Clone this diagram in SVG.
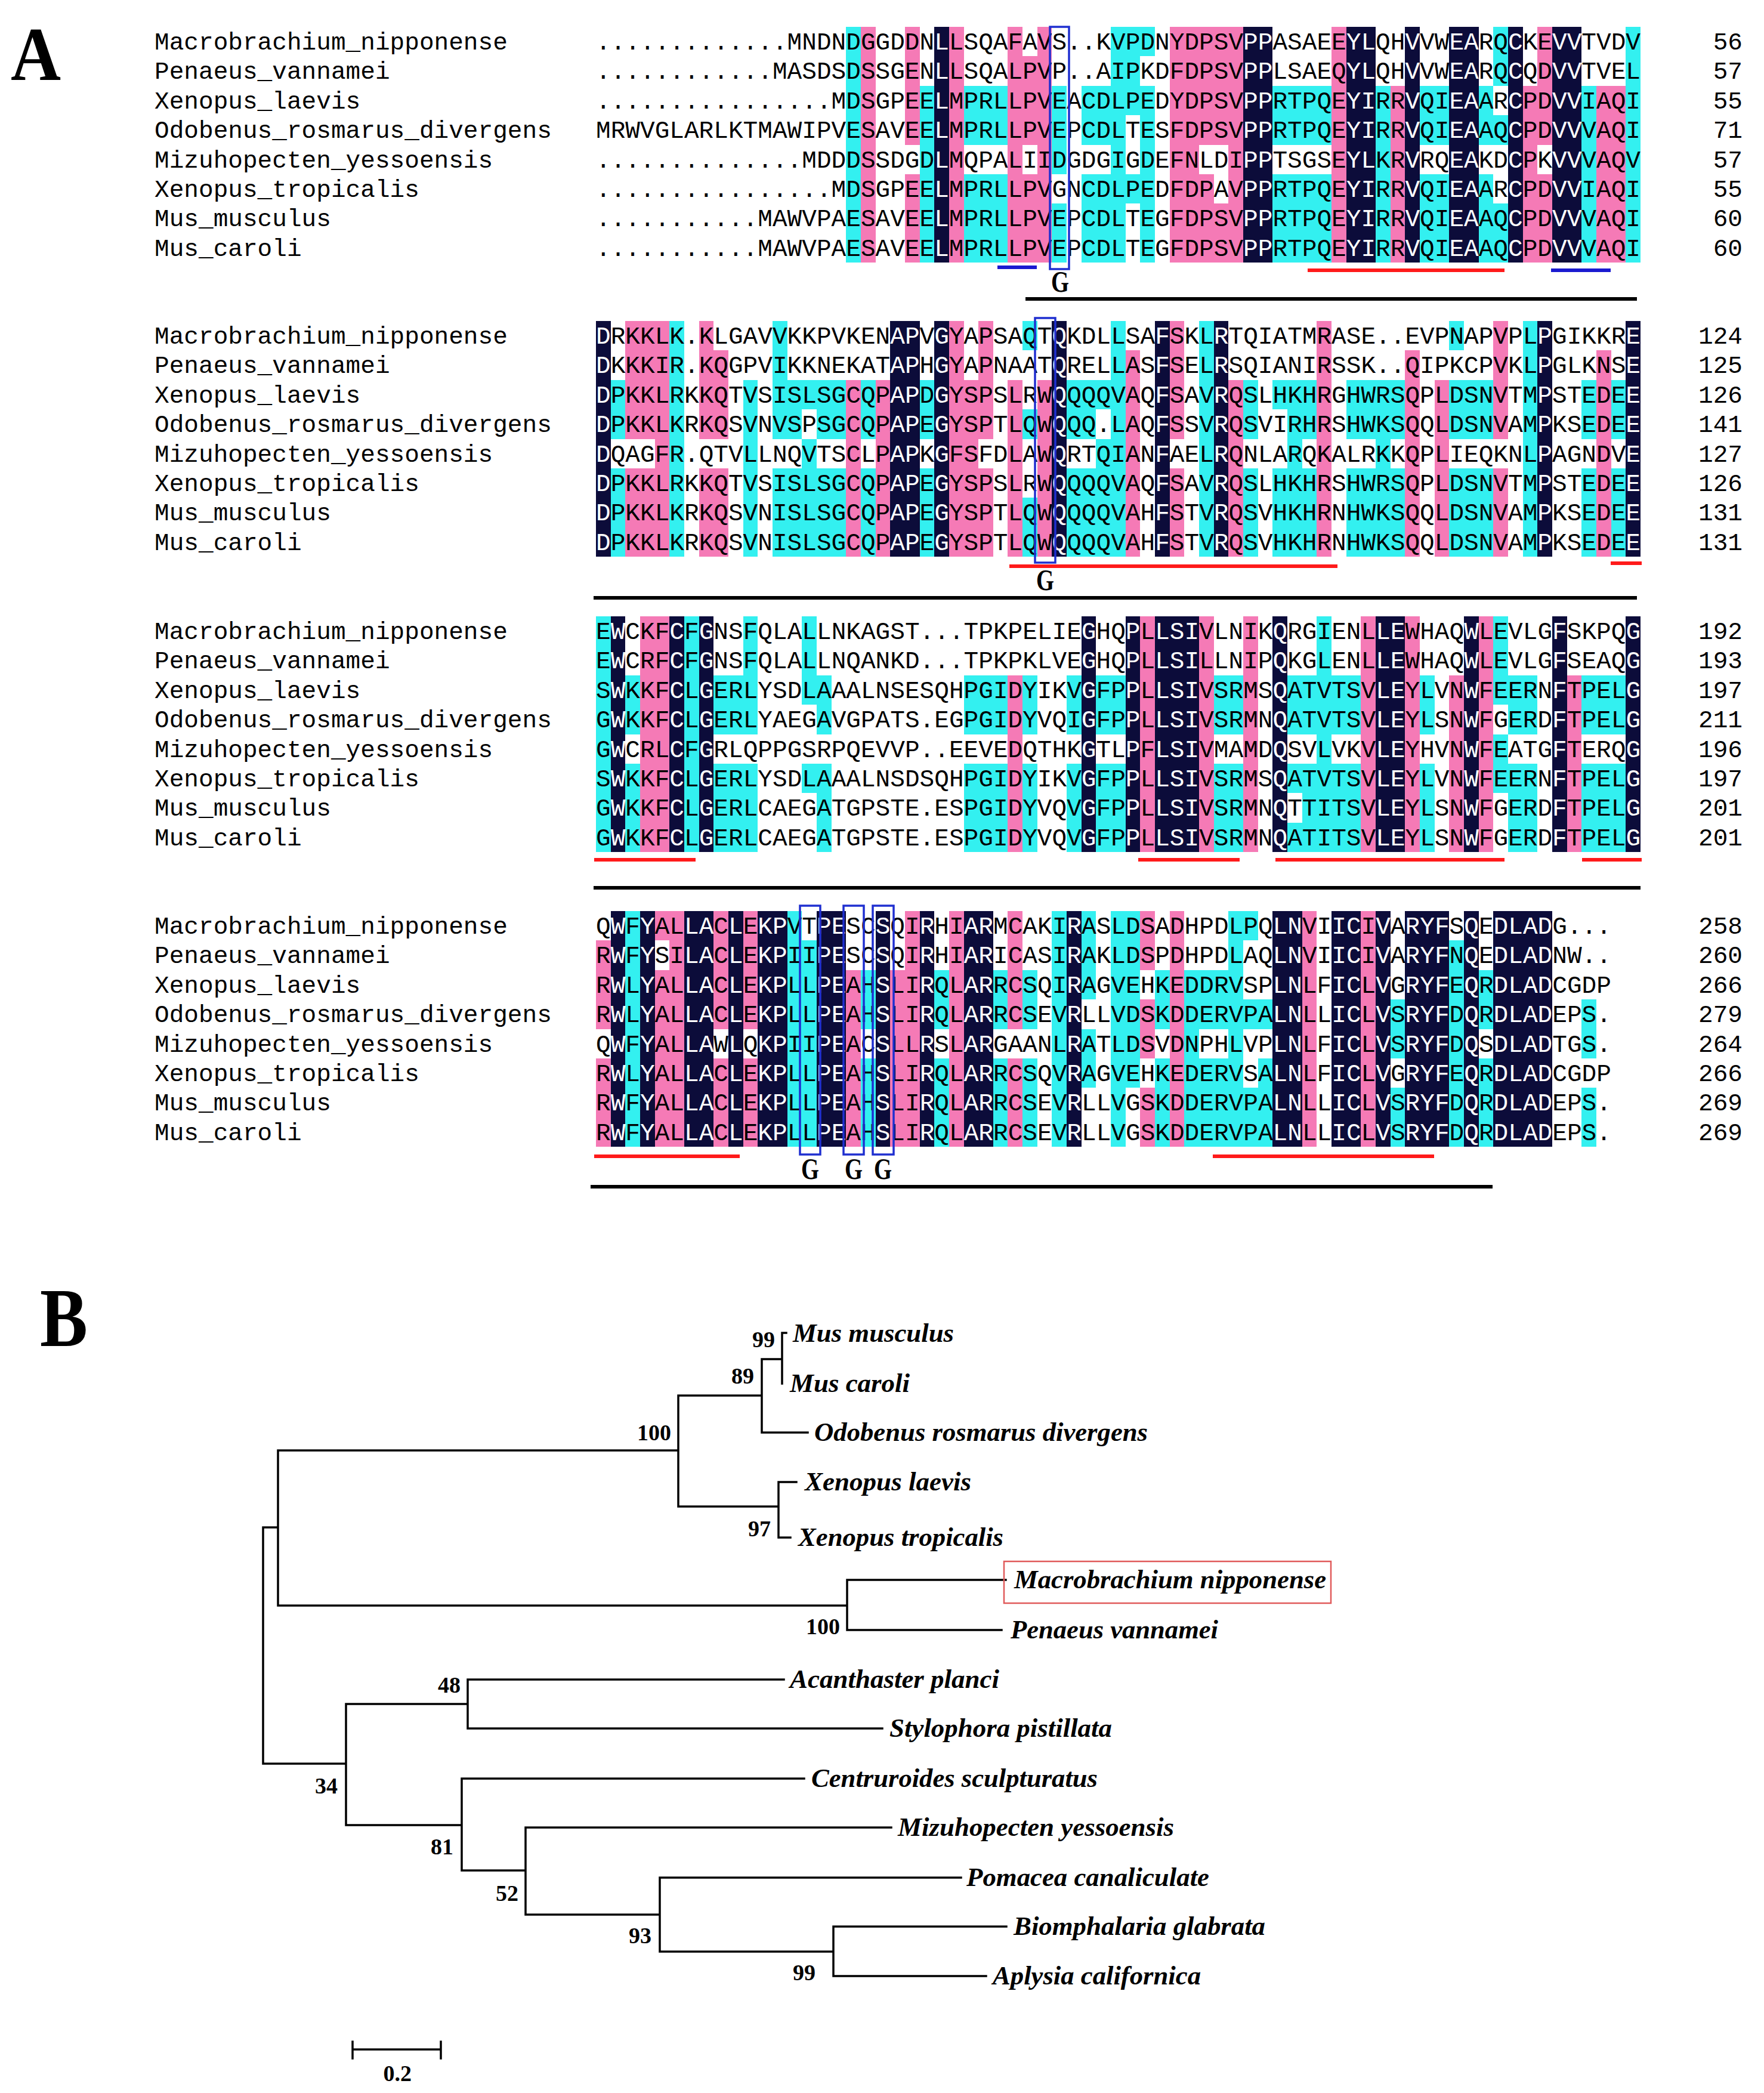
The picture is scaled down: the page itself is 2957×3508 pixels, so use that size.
<svg xmlns="http://www.w3.org/2000/svg" width="2957" height="3508" viewBox="0 0 2957 3508">
<style>
.seq{font-family:"Liberation Mono","Courier New",monospace;font-size:41.1px;fill:#000}
.w{fill:#fff}
.nm{font-family:"Liberation Mono","Courier New",monospace;font-size:41.1px;fill:#000}
.num{font-family:"Liberation Mono","Courier New",monospace;font-size:41.1px;fill:#000;text-anchor:end}
.k{fill:#0c0c3a}.p{fill:#f57ab6}.c{fill:#33f0f0}
.bx{fill:none;stroke:#1f2fd0;stroke-width:3.5}
.red{stroke:#ff1a1a;stroke-width:6}
.blu{stroke:#1a1ad0;stroke-width:6}
.blk{stroke:#000;stroke-width:6}
.g{font-family:"Liberation Serif","Times New Roman",serif;font-weight:bold;font-size:50px;text-anchor:middle}
.tree{stroke:#000;stroke-width:3.5;fill:none;stroke-linecap:square}
.sp{font-family:"Liberation Serif","Times New Roman",serif;font-style:italic;font-weight:bold;font-size:44px}
.bs{font-family:"Liberation Serif","Times New Roman",serif;font-weight:bold;font-size:38px;text-anchor:end}
.pl{font-family:"Liberation Serif","Times New Roman",serif;font-weight:bold}
</style>
<rect width="2957" height="3508" fill="#fff"/>
<text class="pl" x="18" y="134" font-size="128" textLength="84" lengthAdjust="spacingAndGlyphs">A</text>
<text class="pl" x="67" y="2256" font-size="140" textLength="80" lengthAdjust="spacingAndGlyphs">B</text>

<g id="shading" shape-rendering="crispEdges">
<g transform="translate(999,45) scale(24.66,49.4)">
<path class="k" d="M23 0h1v8h-1z M44 0h2v8h-2z M51 0h2v8h-2z M55 0h1v8h-1z M58 0h2v8h-2z M62 0h1v8h-1z M65 0h2v8h-2z"/>
<path class="p" d="M18 0h1v8h-1z M21 0h1v4h-1z M21 5h1v3h-1z M24 0h1v8h-1z M28 0h1v8h-1z M29 1h1v3h-1z M29 5h1v3h-1z M30 0h1v8h-1z M39 0h2v8h-2z M41 0h1v4h-1z M41 5h1v3h-1z M42 0h1v4h-1z M42 6h1v2h-1z M43 0h1v8h-1z M50 0h1v8h-1z M54 2h1v6h-1z M63 2h1v6h-1z M64 0h1v4h-1z M64 5h1v3h-1z M68 2h2v6h-2z"/>
<path class="c" d="M17 0h1v8h-1z M22 2h1v6h-1z M25 2h3v2h-3z M25 5h3v3h-3z M31 2h1v3h-1z M31 6h1v2h-1z M33 2h2v2h-2z M33 5h2v3h-2z M35 0h1v8h-1z M36 0h1v3h-1z M36 5h1v1h-1z M37 0h1v1h-1z M37 2h1v6h-1z M46 2h4v2h-4z M46 5h4v3h-4z M53 2h1v6h-1z M56 2h2v2h-2z M56 5h2v3h-2z M60 2h1v2h-1z M60 5h1v3h-1z M61 0h1v2h-1z M61 3h1v1h-1z M61 6h1v2h-1z M67 2h1v6h-1z M70 0h1v8h-1z"/>
</g>
<g transform="translate(999,538) scale(24.66,49.4)">
<path class="k" d="M0 0h1v8h-1z M20 0h2v8h-2z M23 0h1v8h-1z M31 0h1v8h-1z M38 0h1v8h-1z M42 0h1v8h-1z M64 0h1v8h-1z M70 0h1v8h-1z"/>
<path class="p" d="M2 0h2v4h-2z M2 5h2v3h-2z M4 0h1v8h-1z M7 0h1v4h-1z M7 5h1v3h-1z M8 1h1v3h-1z M8 5h1v3h-1z M17 2h1v6h-1z M19 2h1v6h-1z M24 0h1v8h-1z M25 2h1v6h-1z M26 0h1v4h-1z M26 5h1v3h-1z M28 2h1v6h-1z M30 2h1v6h-1z M36 1h1v7h-1z M39 0h1v4h-1z M39 5h1v3h-1z M43 2h1v6h-1z M49 0h1v8h-1z M55 1h1v7h-1z M57 2h1v6h-1z M61 0h1v4h-1z M61 5h1v3h-1z M68 1h1v7h-1z"/>
<path class="c" d="M1 2h1v2h-1z M1 5h1v3h-1z M5 0h1v8h-1z M10 2h1v6h-1z M12 0h1v4h-1z M12 5h1v3h-1z M13 2h1v2h-1z M13 5h1v3h-1z M14 2h1v1h-1z M14 4h1v4h-1z M15 2h2v2h-2z M15 5h2v3h-2z M18 2h1v2h-1z M18 5h1v3h-1z M22 2h1v2h-1z M22 5h1v3h-1z M29 0h1v1h-1z M29 3h1v1h-1z M29 6h1v2h-1z M32 2h2v2h-2z M32 5h2v3h-2z M34 2h1v1h-1z M34 4h1v4h-1z M35 0h1v8h-1z M41 0h1v8h-1z M44 2h1v2h-1z M44 5h1v3h-1z M46 2h1v1h-1z M46 5h1v3h-1z M47 2h1v6h-1z M48 2h1v2h-1z M48 5h1v3h-1z M51 2h2v2h-2z M51 5h2v3h-2z M53 2h1v6h-1z M54 2h1v2h-1z M54 5h1v3h-1z M58 0h1v1h-1z M58 2h1v2h-1z M58 5h1v3h-1z M59 2h2v2h-2z M59 5h2v3h-2z M63 0h1v8h-1z M67 2h1v2h-1z M67 5h1v3h-1z M69 2h1v2h-1z M69 5h1v3h-1z"/>
</g>
<g transform="translate(999,1033) scale(24.66,49.4)">
<path class="k" d="M1 0h1v8h-1z M5 0h1v8h-1z M7 0h1v8h-1z M33 0h1v8h-1z M36 0h1v8h-1z M38 0h3v8h-3z M46 0h1v8h-1z M53 0h2v8h-2z M59 0h1v8h-1z M65 0h1v8h-1z M70 0h1v8h-1z"/>
<path class="p" d="M3 0h2v8h-2z M28 2h1v6h-1z M37 0h1v8h-1z M41 0h1v8h-1z M44 0h1v8h-1z M52 0h1v8h-1z M55 0h1v8h-1z M58 2h1v6h-1z M60 0h1v8h-1z M66 2h1v6h-1z"/>
<path class="c" d="M0 0h1v8h-1z M2 2h1v2h-1z M2 5h1v3h-1z M6 0h1v8h-1z M8 2h2v2h-2z M8 5h2v3h-2z M10 0h1v4h-1z M10 5h1v3h-1z M14 0h1v3h-1z M14 5h1v1h-1z M15 2h1v2h-1z M15 5h1v3h-1z M25 2h3v2h-3z M25 5h3v3h-3z M29 2h1v2h-1z M29 5h1v3h-1z M32 2h1v2h-1z M32 5h1v3h-1z M34 2h2v2h-2z M34 5h2v3h-2z M42 2h2v2h-2z M42 5h2v3h-2z M47 2h1v2h-1z M47 5h1v1h-1z M47 7h1v1h-1z M48 2h1v2h-1z M48 5h1v3h-1z M49 0h1v8h-1z M50 2h2v2h-2z M50 5h2v3h-2z M56 2h1v2h-1z M56 5h1v3h-1z M61 0h1v3h-1z M61 4h1v2h-1z M62 2h2v2h-2z M62 5h2v3h-2z M67 2h3v2h-3z M67 5h3v3h-3z"/>
</g>
<g transform="translate(999,1527) scale(24.66,49.4)">
<path class="k" d="M1 0h1v8h-1z M3 0h1v8h-1z M6 0h2v8h-2z M9 0h1v8h-1z M11 0h2v8h-2z M15 0h2v8h-2z M19 0h1v8h-1z M22 0h1v8h-1z M25 0h2v8h-2z M32 0h1v8h-1z M46 0h2v8h-2z M50 0h2v8h-2z M53 0h1v8h-1z M55 0h3v8h-3z M59 0h1v8h-1z M61 0h4v8h-4z"/>
<path class="p" d="M0 1h1v3h-1z M0 5h1v3h-1z M4 0h1v1h-1z M4 2h1v6h-1z M5 0h1v8h-1z M8 0h1v4h-1z M8 5h1v3h-1z M10 0h1v4h-1z M10 5h1v3h-1z M17 2h1v6h-1z M20 2h1v6h-1z M21 0h1v8h-1z M24 0h1v8h-1z M28 0h1v4h-1z M28 5h1v3h-1z M37 0h1v2h-1z M37 3h1v2h-1z M37 6h1v2h-1z M39 0h1v8h-1z M48 0h1v8h-1z M52 0h1v8h-1z"/>
<path class="c" d="M2 0h1v8h-1z M13 0h1v8h-1z M14 1h1v7h-1z M18 2h1v2h-1z M18 5h1v3h-1z M23 2h1v2h-1z M23 5h1v3h-1z M27 2h1v2h-1z M27 5h1v3h-1z M29 2h1v2h-1z M29 5h1v3h-1z M31 0h1v8h-1z M33 0h1v3h-1z M33 4h1v2h-1z M35 0h1v8h-1z M36 0h1v6h-1z M38 2h1v2h-1z M38 5h1v3h-1z M40 2h1v6h-1z M41 2h2v2h-2z M41 5h2v3h-2z M43 0h1v8h-1z M44 0h1v1h-1z M44 3h1v1h-1z M44 6h1v2h-1z M45 3h1v1h-1z M45 5h1v3h-1z M54 3h1v2h-1z M54 6h1v2h-1z M58 1h1v7h-1z M60 2h1v2h-1z M60 5h1v3h-1z M67 3h1v2h-1z M67 6h1v2h-1z"/>
</g>
</g>

<g id="names">
<g class="nm">
<text x="259" y="83">Macrobrachium_nipponense</text>
<text x="259" y="132.4">Penaeus_vannamei</text>
<text x="259" y="181.8">Xenopus_laevis</text>
<text x="259" y="231.2">Odobenus_rosmarus_divergens</text>
<text x="259" y="280.6">Mizuhopecten_yessoensis</text>
<text x="259" y="330">Xenopus_tropicalis</text>
<text x="259" y="379.4">Mus_musculus</text>
<text x="259" y="428.8">Mus_caroli</text>
<text x="259" y="576">Macrobrachium_nipponense</text>
<text x="259" y="625.4">Penaeus_vannamei</text>
<text x="259" y="674.8">Xenopus_laevis</text>
<text x="259" y="724.2">Odobenus_rosmarus_divergens</text>
<text x="259" y="773.6">Mizuhopecten_yessoensis</text>
<text x="259" y="823">Xenopus_tropicalis</text>
<text x="259" y="872.4">Mus_musculus</text>
<text x="259" y="921.8">Mus_caroli</text>
<text x="259" y="1071">Macrobrachium_nipponense</text>
<text x="259" y="1120.4">Penaeus_vannamei</text>
<text x="259" y="1169.8">Xenopus_laevis</text>
<text x="259" y="1219.2">Odobenus_rosmarus_divergens</text>
<text x="259" y="1268.6">Mizuhopecten_yessoensis</text>
<text x="259" y="1318">Xenopus_tropicalis</text>
<text x="259" y="1367.4">Mus_musculus</text>
<text x="259" y="1416.8">Mus_caroli</text>
<text x="259" y="1565">Macrobrachium_nipponense</text>
<text x="259" y="1614.4">Penaeus_vannamei</text>
<text x="259" y="1663.8">Xenopus_laevis</text>
<text x="259" y="1713.2">Odobenus_rosmarus_divergens</text>
<text x="259" y="1762.6">Mizuhopecten_yessoensis</text>
<text x="259" y="1812">Xenopus_tropicalis</text>
<text x="259" y="1861.4">Mus_musculus</text>
<text x="259" y="1910.8">Mus_caroli</text>
</g>
</g>

<g id="numbers" class="num">
<text x="2921" y="83">56</text><text x="2921" y="132.4">57</text><text x="2921" y="181.8">55</text><text x="2921" y="231.2">71</text><text x="2921" y="280.6">57</text><text x="2921" y="330">55</text><text x="2921" y="379.4">60</text><text x="2921" y="428.8">60</text>
<text x="2921" y="576">124</text><text x="2921" y="625.4">125</text><text x="2921" y="674.8">126</text><text x="2921" y="724.2">141</text><text x="2921" y="773.6">127</text><text x="2921" y="823">126</text><text x="2921" y="872.4">131</text><text x="2921" y="921.8">131</text>
<text x="2921" y="1071">192</text><text x="2921" y="1120.4">193</text><text x="2921" y="1169.8">197</text><text x="2921" y="1219.2">211</text><text x="2921" y="1268.6">196</text><text x="2921" y="1318">197</text><text x="2921" y="1367.4">201</text><text x="2921" y="1416.8">201</text>
<text x="2921" y="1565">258</text><text x="2921" y="1614.4">260</text><text x="2921" y="1663.8">266</text><text x="2921" y="1713.2">279</text><text x="2921" y="1762.6">264</text><text x="2921" y="1812">266</text><text x="2921" y="1861.4">269</text><text x="2921" y="1910.8">269</text>
</g>

<g id="block1" class="seq">
<text x="999" y="83">.............MNDNDGGDDN<tspan class="w">L</tspan>LSQAFAVS..KVPDNYDPSV<tspan class="w">PP</tspan>ASAEE<tspan class="w">YL</tspan>QH<tspan class="w">V</tspan>VW<tspan class="w">EA</tspan>RQ<tspan class="w">C</tspan>KE<tspan class="w">VV</tspan>TVDV</text>
<text x="999" y="132.4">............MASDSDSSGEN<tspan class="w">L</tspan>LSQALPVP..AIPKDFDPSV<tspan class="w">PP</tspan>LSAEQ<tspan class="w">YL</tspan>QH<tspan class="w">V</tspan>VW<tspan class="w">EA</tspan>RQ<tspan class="w">C</tspan>QD<tspan class="w">VV</tspan>TVEL</text>
<text x="999" y="181.8">................MDSGPEE<tspan class="w">L</tspan>MPRLLPVEACDLPEDYDPSV<tspan class="w">PP</tspan>RTPQE<tspan class="w">YI</tspan>RR<tspan class="w">V</tspan>QI<tspan class="w">EA</tspan>AR<tspan class="w">C</tspan>PD<tspan class="w">VV</tspan>IAQI</text>
<text x="999" y="231.2">MRWVGLARLKTMAWIPVESAVEE<tspan class="w">L</tspan>MPRLLPVEPCDLTESFDPSV<tspan class="w">PP</tspan>RTPQE<tspan class="w">YI</tspan>RR<tspan class="w">V</tspan>QI<tspan class="w">EA</tspan>AQ<tspan class="w">C</tspan>PD<tspan class="w">VV</tspan>VAQI</text>
<text x="999" y="280.6">..............MDDDSSDGD<tspan class="w">L</tspan>MQPALIIDGDGIGDEFNLDI<tspan class="w">PP</tspan>TSGSE<tspan class="w">YL</tspan>KR<tspan class="w">V</tspan>RQ<tspan class="w">EA</tspan>KD<tspan class="w">C</tspan>PK<tspan class="w">VV</tspan>VAQV</text>
<text x="999" y="330">................MDSGPEE<tspan class="w">L</tspan>MPRLLPVGNCDLPEDFDPAV<tspan class="w">PP</tspan>RTPQE<tspan class="w">YI</tspan>RR<tspan class="w">V</tspan>QI<tspan class="w">EA</tspan>AR<tspan class="w">C</tspan>PD<tspan class="w">VV</tspan>IAQI</text>
<text x="999" y="379.4">...........MAWVPAESAVEE<tspan class="w">L</tspan>MPRLLPVEPCDLTEGFDPSV<tspan class="w">PP</tspan>RTPQE<tspan class="w">YI</tspan>RR<tspan class="w">V</tspan>QI<tspan class="w">EA</tspan>AQ<tspan class="w">C</tspan>PD<tspan class="w">VV</tspan>VAQI</text>
<text x="999" y="428.8">...........MAWVPAESAVEE<tspan class="w">L</tspan>MPRLLPVEPCDLTEGFDPSV<tspan class="w">PP</tspan>RTPQE<tspan class="w">YI</tspan>RR<tspan class="w">V</tspan>QI<tspan class="w">EA</tspan>AQ<tspan class="w">C</tspan>PD<tspan class="w">VV</tspan>VAQI</text>
</g>

<g id="block2" class="seq">
<text x="999" y="576"><tspan class="w">D</tspan>RKKLK.KLGAVVKKPVKEN<tspan class="w">AP</tspan>V<tspan class="w">G</tspan>YAPSAQT<tspan class="w">Q</tspan>KDLLSA<tspan class="w">F</tspan>SKL<tspan class="w">R</tspan>TQIATMRASE..EVPNAPVPL<tspan class="w">P</tspan>GIKKR<tspan class="w">E</tspan></text>
<text x="999" y="625.4"><tspan class="w">D</tspan>KKKIR.KQGPVIKKNEKAT<tspan class="w">AP</tspan>H<tspan class="w">G</tspan>YAPNAAT<tspan class="w">Q</tspan>RELLAS<tspan class="w">F</tspan>SEL<tspan class="w">R</tspan>SQIANIRSSK..QIPKCPVKL<tspan class="w">P</tspan>GLKNS<tspan class="w">E</tspan></text>
<text x="999" y="674.8"><tspan class="w">D</tspan>PKKLRKKQTVSISLSGCQP<tspan class="w">AP</tspan>D<tspan class="w">G</tspan>YSPSLRW<tspan class="w">Q</tspan>QQQVAQ<tspan class="w">F</tspan>SAV<tspan class="w">R</tspan>QSLHKHRGHWRSQPLDSNVTM<tspan class="w">P</tspan>STEDE<tspan class="w">E</tspan></text>
<text x="999" y="724.2"><tspan class="w">D</tspan>PKKLKRKQSVNVSPSGCQP<tspan class="w">AP</tspan>E<tspan class="w">G</tspan>YSPTLQW<tspan class="w">Q</tspan>QQ.LAQ<tspan class="w">F</tspan>SSV<tspan class="w">R</tspan>QSVIRHRSHWKSQQLDSNVAM<tspan class="w">P</tspan>KSEDE<tspan class="w">E</tspan></text>
<text x="999" y="773.6"><tspan class="w">D</tspan>QAGFR.QTVLLNQVTSCLP<tspan class="w">AP</tspan>K<tspan class="w">G</tspan>FSFDLAW<tspan class="w">Q</tspan>RTQIAN<tspan class="w">F</tspan>AEL<tspan class="w">R</tspan>QNLARQKALRKKQPLIEQKNL<tspan class="w">P</tspan>AGNDV<tspan class="w">E</tspan></text>
<text x="999" y="823"><tspan class="w">D</tspan>PKKLRKKQTVSISLSGCQP<tspan class="w">AP</tspan>E<tspan class="w">G</tspan>YSPSLRW<tspan class="w">Q</tspan>QQQVAQ<tspan class="w">F</tspan>SAV<tspan class="w">R</tspan>QSLHKHRSHWRSQPLDSNVTM<tspan class="w">P</tspan>STEDE<tspan class="w">E</tspan></text>
<text x="999" y="872.4"><tspan class="w">D</tspan>PKKLKRKQSVNISLSGCQP<tspan class="w">AP</tspan>E<tspan class="w">G</tspan>YSPTLQW<tspan class="w">Q</tspan>QQQVAH<tspan class="w">F</tspan>STV<tspan class="w">R</tspan>QSVHKHRNHWKSQQLDSNVAM<tspan class="w">P</tspan>KSEDE<tspan class="w">E</tspan></text>
<text x="999" y="921.8"><tspan class="w">D</tspan>PKKLKRKQSVNISLSGCQP<tspan class="w">AP</tspan>E<tspan class="w">G</tspan>YSPTLQW<tspan class="w">Q</tspan>QQQVAH<tspan class="w">F</tspan>STV<tspan class="w">R</tspan>QSVHKHRNHWKSQQLDSNVAM<tspan class="w">P</tspan>KSEDE<tspan class="w">E</tspan></text>
</g>

<g id="block3" class="seq">
<text x="999" y="1071">E<tspan class="w">W</tspan>CKF<tspan class="w">C</tspan>F<tspan class="w">G</tspan>NSFQLALLNKAGST...TPKPELIE<tspan class="w">G</tspan>HQ<tspan class="w">P</tspan>L<tspan class="w">LSI</tspan>VLNIK<tspan class="w">Q</tspan>RGIENL<tspan class="w">LE</tspan>WHAQ<tspan class="w">W</tspan>LEVLG<tspan class="w">F</tspan>SKPQ<tspan class="w">G</tspan></text>
<text x="999" y="1120.4">E<tspan class="w">W</tspan>CRF<tspan class="w">C</tspan>F<tspan class="w">G</tspan>NSFQLALLNQANKD...TPKPKLVE<tspan class="w">G</tspan>HQ<tspan class="w">P</tspan>L<tspan class="w">LSI</tspan>LLNIP<tspan class="w">Q</tspan>KGLENL<tspan class="w">LE</tspan>WHAQ<tspan class="w">W</tspan>LEVLG<tspan class="w">F</tspan>SEAQ<tspan class="w">G</tspan></text>
<text x="999" y="1169.8">S<tspan class="w">W</tspan>KKF<tspan class="w">C</tspan>L<tspan class="w">G</tspan>ERLYSDLAAALNSESQHPGIDYIKV<tspan class="w">G</tspan>FP<tspan class="w">P</tspan>L<tspan class="w">LSI</tspan>VSRMS<tspan class="w">Q</tspan>ATVTSV<tspan class="w">LE</tspan>YLVN<tspan class="w">W</tspan>FEERN<tspan class="w">F</tspan>TPEL<tspan class="w">G</tspan></text>
<text x="999" y="1219.2">G<tspan class="w">W</tspan>KKF<tspan class="w">C</tspan>L<tspan class="w">G</tspan>ERLYAEGAVGPATS.EGPGIDYVQI<tspan class="w">G</tspan>FP<tspan class="w">P</tspan>L<tspan class="w">LSI</tspan>VSRMN<tspan class="w">Q</tspan>ATVTSV<tspan class="w">LE</tspan>YLSN<tspan class="w">W</tspan>FGERD<tspan class="w">F</tspan>TPEL<tspan class="w">G</tspan></text>
<text x="999" y="1268.6">G<tspan class="w">W</tspan>CRL<tspan class="w">C</tspan>F<tspan class="w">G</tspan>RLQPPGSRPQEVVP..EEVEDQTHK<tspan class="w">G</tspan>TL<tspan class="w">P</tspan>F<tspan class="w">LSI</tspan>VMAMD<tspan class="w">Q</tspan>SVLVKV<tspan class="w">LE</tspan>YHVN<tspan class="w">W</tspan>FEATG<tspan class="w">F</tspan>TERQ<tspan class="w">G</tspan></text>
<text x="999" y="1318">S<tspan class="w">W</tspan>KKF<tspan class="w">C</tspan>L<tspan class="w">G</tspan>ERLYSDLAAALNSDSQHPGIDYIKV<tspan class="w">G</tspan>FP<tspan class="w">P</tspan>L<tspan class="w">LSI</tspan>VSRMS<tspan class="w">Q</tspan>ATVTSV<tspan class="w">LE</tspan>YLVN<tspan class="w">W</tspan>FEERN<tspan class="w">F</tspan>TPEL<tspan class="w">G</tspan></text>
<text x="999" y="1367.4">G<tspan class="w">W</tspan>KKF<tspan class="w">C</tspan>L<tspan class="w">G</tspan>ERLCAEGATGPSTE.ESPGIDYVQV<tspan class="w">G</tspan>FP<tspan class="w">P</tspan>L<tspan class="w">LSI</tspan>VSRMN<tspan class="w">Q</tspan>TTITSV<tspan class="w">LE</tspan>YLSN<tspan class="w">W</tspan>FGERD<tspan class="w">F</tspan>TPEL<tspan class="w">G</tspan></text>
<text x="999" y="1416.8">G<tspan class="w">W</tspan>KKF<tspan class="w">C</tspan>L<tspan class="w">G</tspan>ERLCAEGATGPSTE.ESPGIDYVQV<tspan class="w">G</tspan>FP<tspan class="w">P</tspan>L<tspan class="w">LSI</tspan>VSRMN<tspan class="w">Q</tspan>ATITSV<tspan class="w">LE</tspan>YLSN<tspan class="w">W</tspan>FGERD<tspan class="w">F</tspan>TPEL<tspan class="w">G</tspan></text>
</g>

<g id="block4" class="seq">
<text x="999" y="1565">Q<tspan class="w">W</tspan>F<tspan class="w">Y</tspan>AL<tspan class="w">LA</tspan>C<tspan class="w">L</tspan>E<tspan class="w">KP</tspan>VT<tspan class="w">PE</tspan>SC<tspan class="w">S</tspan>QI<tspan class="w">R</tspan>HI<tspan class="w">AR</tspan>MCAKI<tspan class="w">R</tspan>ASLDSADHPDLPQ<tspan class="w">LN</tspan>VI<tspan class="w">IC</tspan>I<tspan class="w">V</tspan>A<tspan class="w">RYF</tspan>S<tspan class="w">Q</tspan>E<tspan class="w">DLAD</tspan>G...</text>
<text x="999" y="1614.4">R<tspan class="w">W</tspan>F<tspan class="w">Y</tspan>SI<tspan class="w">LA</tspan>C<tspan class="w">L</tspan>E<tspan class="w">KP</tspan>II<tspan class="w">PE</tspan>SC<tspan class="w">S</tspan>QI<tspan class="w">R</tspan>HI<tspan class="w">AR</tspan>ICASI<tspan class="w">R</tspan>AKLDSPDHPDLAQ<tspan class="w">LN</tspan>VI<tspan class="w">IC</tspan>I<tspan class="w">V</tspan>A<tspan class="w">RYF</tspan>N<tspan class="w">Q</tspan>E<tspan class="w">DLAD</tspan>NW..</text>
<text x="999" y="1663.8">R<tspan class="w">W</tspan>L<tspan class="w">Y</tspan>AL<tspan class="w">LA</tspan>C<tspan class="w">L</tspan>E<tspan class="w">KP</tspan>LL<tspan class="w">PE</tspan>AH<tspan class="w">S</tspan>LI<tspan class="w">R</tspan>QL<tspan class="w">AR</tspan>RCSQI<tspan class="w">R</tspan>AGVEHKEDDRVSP<tspan class="w">LN</tspan>LF<tspan class="w">IC</tspan>L<tspan class="w">V</tspan>G<tspan class="w">RYF</tspan>E<tspan class="w">Q</tspan>R<tspan class="w">DLAD</tspan>CGDP</text>
<text x="999" y="1713.2">R<tspan class="w">W</tspan>L<tspan class="w">Y</tspan>AL<tspan class="w">LA</tspan>C<tspan class="w">L</tspan>E<tspan class="w">KP</tspan>LL<tspan class="w">PE</tspan>AH<tspan class="w">S</tspan>LI<tspan class="w">R</tspan>QL<tspan class="w">AR</tspan>RCSEV<tspan class="w">R</tspan>LLVDSKDDERVPA<tspan class="w">LN</tspan>LL<tspan class="w">IC</tspan>L<tspan class="w">V</tspan>S<tspan class="w">RYF</tspan>D<tspan class="w">Q</tspan>R<tspan class="w">DLAD</tspan>EPS.</text>
<text x="999" y="1762.6">Q<tspan class="w">W</tspan>F<tspan class="w">Y</tspan>AL<tspan class="w">LA</tspan>W<tspan class="w">L</tspan>Q<tspan class="w">KP</tspan>II<tspan class="w">PE</tspan>AC<tspan class="w">S</tspan>LL<tspan class="w">R</tspan>SL<tspan class="w">AR</tspan>GAANL<tspan class="w">R</tspan>ATLDSVDNPHLVP<tspan class="w">LN</tspan>LF<tspan class="w">IC</tspan>L<tspan class="w">V</tspan>S<tspan class="w">RYF</tspan>D<tspan class="w">Q</tspan>S<tspan class="w">DLAD</tspan>TGS.</text>
<text x="999" y="1812">R<tspan class="w">W</tspan>L<tspan class="w">Y</tspan>AL<tspan class="w">LA</tspan>C<tspan class="w">L</tspan>E<tspan class="w">KP</tspan>LL<tspan class="w">PE</tspan>AH<tspan class="w">S</tspan>LI<tspan class="w">R</tspan>QL<tspan class="w">AR</tspan>RCSQV<tspan class="w">R</tspan>AGVEHKEDERVSA<tspan class="w">LN</tspan>LF<tspan class="w">IC</tspan>L<tspan class="w">V</tspan>G<tspan class="w">RYF</tspan>E<tspan class="w">Q</tspan>R<tspan class="w">DLAD</tspan>CGDP</text>
<text x="999" y="1861.4">R<tspan class="w">W</tspan>F<tspan class="w">Y</tspan>AL<tspan class="w">LA</tspan>C<tspan class="w">L</tspan>E<tspan class="w">KP</tspan>LL<tspan class="w">PE</tspan>AH<tspan class="w">S</tspan>LI<tspan class="w">R</tspan>QL<tspan class="w">AR</tspan>RCSEV<tspan class="w">R</tspan>LLVGSKDDERVPA<tspan class="w">LN</tspan>LL<tspan class="w">IC</tspan>L<tspan class="w">V</tspan>S<tspan class="w">RYF</tspan>D<tspan class="w">Q</tspan>R<tspan class="w">DLAD</tspan>EPS.</text>
<text x="999" y="1910.8">R<tspan class="w">W</tspan>F<tspan class="w">Y</tspan>AL<tspan class="w">LA</tspan>C<tspan class="w">L</tspan>E<tspan class="w">KP</tspan>LL<tspan class="w">PE</tspan>AH<tspan class="w">S</tspan>LI<tspan class="w">R</tspan>QL<tspan class="w">AR</tspan>RCSEV<tspan class="w">R</tspan>LLVGSKDDERVPA<tspan class="w">LN</tspan>LL<tspan class="w">IC</tspan>L<tspan class="w">V</tspan>S<tspan class="w">RYF</tspan>D<tspan class="w">Q</tspan>R<tspan class="w">DLAD</tspan>EPS.</text>
</g>

<g id="annotations">
<rect class="bx" x="1760" y="45" width="32" height="406"/>
<rect class="bx" x="1735" y="533" width="34" height="410"/>
<rect class="bx" x="1341" y="1518" width="34" height="417"/>
<rect class="bx" x="1414" y="1518" width="34" height="417"/>
<rect class="bx" x="1463" y="1518" width="35" height="417"/>
<line class="blu" x1="1672" y1="448" x2="1738" y2="448"/>
<line class="red" x1="2192" y1="453" x2="2522" y2="453"/>
<line class="blu" x1="2600" y1="453" x2="2700" y2="453"/>
<line class="blk" x1="1719" y1="501" x2="2744" y2="501"/>
<line class="red" x1="1692" y1="949" x2="2242" y2="949"/>
<line class="red" x1="2700" y1="944" x2="2752" y2="944"/>
<line class="blk" x1="995" y1="1002" x2="2744" y2="1002"/>
<line class="red" x1="996" y1="1441" x2="1166" y2="1441"/>
<line class="red" x1="1908" y1="1441" x2="2078" y2="1441"/>
<line class="red" x1="2138" y1="1441" x2="2522" y2="1441"/>
<line class="red" x1="2652" y1="1441" x2="2752" y2="1441"/>
<line class="blk" x1="995" y1="1488" x2="2750" y2="1488"/>
<line class="red" x1="996" y1="1938" x2="1240" y2="1938"/>
<line class="red" x1="2033" y1="1938" x2="2404" y2="1938"/>
<line class="blk" x1="990" y1="1989" x2="2502" y2="1989"/>
<text class="g" x="1777" y="489" textLength="30" lengthAdjust="spacingAndGlyphs">G</text>
<text class="g" x="1752" y="989" textLength="30" lengthAdjust="spacingAndGlyphs">G</text>
<text class="g" x="1358" y="1976" textLength="30" lengthAdjust="spacingAndGlyphs">G</text>
<text class="g" x="1431" y="1976" textLength="30" lengthAdjust="spacingAndGlyphs">G</text>
<text class="g" x="1480" y="1976" textLength="30" lengthAdjust="spacingAndGlyphs">G</text>
</g>

<g id="tree-edges">
<path class="tree" d="M441 2560V2956 M441 2560H466 M441 2956H580 M466 2431V2691 M466 2431H1137 M466 2691H1420 M1137 2339V2525 M1137 2339H1277 M1137 2525H1305 M1277 2278V2401 M1277 2278H1311 M1277 2401H1354 M1311 2234V2319 M1311 2234H1318 M1305 2484V2577 M1305 2484H1335 M1305 2577H1325 M1420 2648V2732 M1420 2648H1686 M1420 2732H1679 M580 2856V3059 M580 2856H784 M580 3059H774 M784 2815V2897 M784 2815H1314 M784 2897H1479 M774 2981V3135 M774 2981H1348 M774 3135H881 M881 3063V3209 M881 3063H1494 M881 3209H1106 M1106 3147V3271 M1106 3147H1611 M1106 3271H1397 M1397 3229V3312 M1397 3229H1687 M1397 3312H1653"/>
</g>

<g id="bootstrap" class="bs">
<text x="1299" y="2258">99</text>
<text x="1264" y="2319">89</text>
<text x="1125" y="2414">100</text>
<text x="1292" y="2575">97</text>
<text x="1408" y="2739">100</text>
<text x="772" y="2837">48</text>
<text x="566" y="3006">34</text>
<text x="760" y="3108">81</text>
<text x="869" y="3186">52</text>
<text x="1092" y="3257">93</text>
<text x="1367" y="3319">99</text>
</g>

<g id="leaves" class="sp">
<g id="leaf-mus-musculus"><text x="1329" y="2249" textLength="270" lengthAdjust="spacingAndGlyphs">Mus musculus</text></g>
<g id="leaf-mus-caroli"><text x="1324" y="2333" textLength="201" lengthAdjust="spacingAndGlyphs">Mus caroli</text></g>
<g id="leaf-odobenus"><text x="1365" y="2415" textLength="559" lengthAdjust="spacingAndGlyphs">Odobenus rosmarus divergens</text></g>
<g id="leaf-xenopus-laevis"><text x="1349" y="2498" textLength="279" lengthAdjust="spacingAndGlyphs">Xenopus laevis</text></g>
<g id="leaf-xenopus-tropicalis"><text x="1338" y="2591" textLength="344" lengthAdjust="spacingAndGlyphs">Xenopus tropicalis</text></g>
<g id="leaf-macrobrachium"><rect x="1683" y="2617" width="548" height="70" fill="none" stroke="#e05a5a" stroke-width="2.5"/><text x="1700" y="2662" textLength="523" lengthAdjust="spacingAndGlyphs">Macrobrachium nipponense</text></g>
<g id="leaf-penaeus"><text x="1694" y="2746" textLength="348" lengthAdjust="spacingAndGlyphs">Penaeus vannamei</text></g>
<g id="leaf-acanthaster"><text x="1324" y="2829" textLength="351" lengthAdjust="spacingAndGlyphs">Acanthaster planci</text></g>
<g id="leaf-stylophora"><text x="1491" y="2911" textLength="373" lengthAdjust="spacingAndGlyphs">Stylophora pistillata</text></g>
<g id="leaf-centruroides"><text x="1360" y="2995" textLength="480" lengthAdjust="spacingAndGlyphs">Centruroides sculpturatus</text></g>
<g id="leaf-mizuhopecten"><text x="1505" y="3077" textLength="463" lengthAdjust="spacingAndGlyphs">Mizuhopecten yessoensis</text></g>
<g id="leaf-pomacea"><text x="1620" y="3161" textLength="407" lengthAdjust="spacingAndGlyphs">Pomacea canaliculate</text></g>
<g id="leaf-biomphalaria"><text x="1699" y="3243" textLength="422" lengthAdjust="spacingAndGlyphs">Biomphalaria glabrata</text></g>
<g id="leaf-aplysia"><text x="1664" y="3326" textLength="349" lengthAdjust="spacingAndGlyphs">Aplysia californica</text></g>
</g>

<g id="scalebar">
<path class="tree" d="M591 3435H739 M591 3422V3450 M739 3422V3450"/>
<text class="bs" x="690" y="3488" style="text-anchor:end">0.2</text>
</g>
</svg>
